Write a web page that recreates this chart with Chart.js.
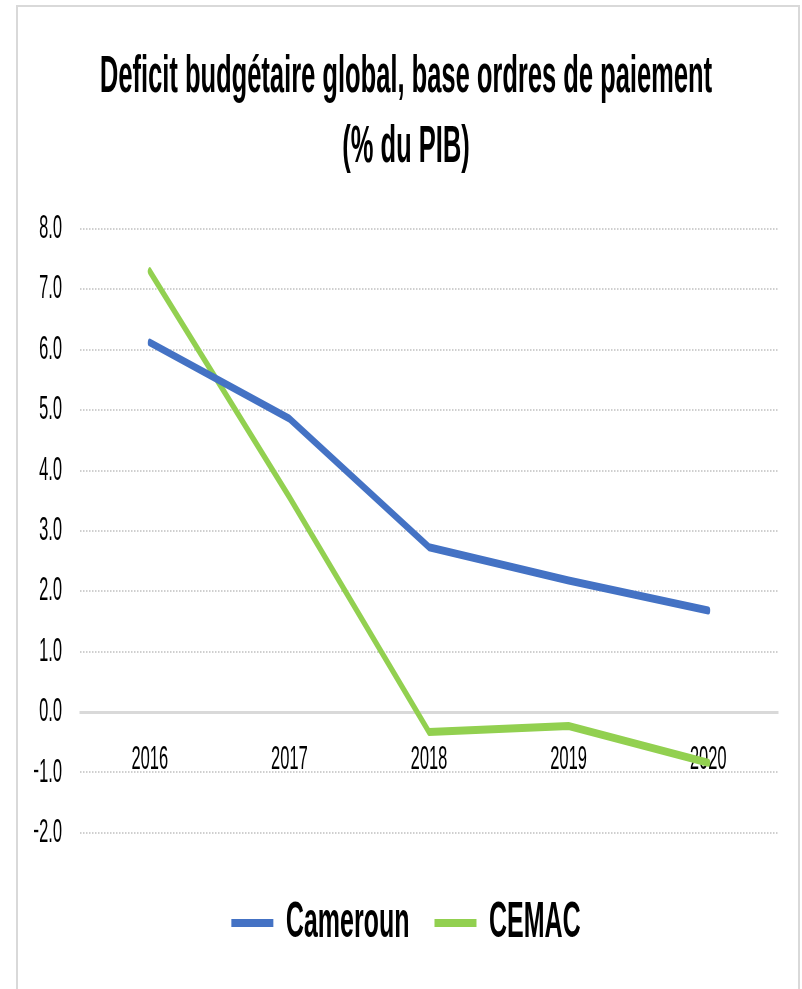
<!DOCTYPE html>
<html>
<head>
<meta charset="utf-8">
<script src="https://cdn.jsdelivr.net/npm/chart.js@4"></script>
<style>
  html, body { margin: 0; padding: 0; background: #fff; }
  #frame {
    position: absolute; left: 16px; top: 5px; width: 784px; height: 1000px;
    border: 2px solid #d9d9d9; box-sizing: border-box;
  }
  #chart { position: absolute; left: 0; top: 0; }
</style>
</head>
<body>
<div id="frame"></div>
<!-- drawn twice as wide then squeezed, to get the narrow lettering of the original -->
<canvas id="chart" width="1604" height="989" style="width:802px;height:989px"></canvas>
<script>
const years = ['2016', '2017', '2018', '2019', '2020'];
const cameroun = [6.12, 4.86, 2.73, 2.18, 1.68];
const cemac = [7.3, 3.56, -0.33, -0.23, -0.84];
const seriesNames = ['Cameroun', 'CEMAC'];
const titleLines = ['Deficit budgétaire global, base ordres de paiement', '(% du PIB)'];
const yMin = -2, yMax = 8, yStep = 1;

const BLUE = '#4472C4';
const GREEN = '#92D050';
const GRID = '#cfcfcf';
const FONT = "'Liberation Sans', Arial, sans-serif";
const PAD_LEFT = 68;

new Chart(document.getElementById('chart'), {
  type: 'line',
  data: {
    labels: years,
    datasets: [
      { label: seriesNames[0], data: cameroun, borderColor: BLUE, backgroundColor: BLUE, borderWidth: 8 },
      { label: seriesNames[1], data: cemac, borderColor: GREEN, backgroundColor: GREEN, borderWidth: 8 }
    ]
  },
  options: {
    responsive: false,
    devicePixelRatio: 1,
    animation: false,
    elements: {
      line: { tension: 0, borderCapStyle: 'round', borderJoinStyle: 'round' },
      point: { radius: 0, hoverRadius: 0 }
    },
    layout: { padding: { left: PAD_LEFT, right: 48, top: 0, bottom: 31 } },
    scales: {
      x: {
        position: { y: 0 },
        offset: true,
        grid: { display: false, drawTicks: false },
        border: { display: true, color: '#d9d9d9', width: 3 },
        ticks: { color: '#000', padding: 28, font: { family: FONT, size: 33 } }
      },
      y: {
        min: yMin,
        max: yMax,
        grid: { color: GRID, lineWidth: 2, drawTicks: false },
        border: { display: false, dash: [3, 3] },
        afterFit: scale => { scale.width = 160 - PAD_LEFT; },
        ticks: {
          stepSize: yStep,
          color: '#000',
          padding: 36,
          font: { family: FONT, size: 33 },
          callback: v => v.toFixed(1).replace('-', '\u2212')
        }
      }
    },
    plugins: {
      tooltip: { enabled: false },
      title: {
        display: true,
        text: titleLines,
        color: '#000',
        font: { family: FONT, size: 51, weight: 'bold', lineHeight: 70 / 51 },
        padding: { top: 43, bottom: 46 }
      },
      legend: {
        position: 'bottom',
        title: { display: true, text: '', padding: 7, font: { size: 1 } },
        labels: {
          usePointStyle: true,
          pointStyle: 'line',
          pointStyleWidth: 84,
          padding: 50,
          color: '#000',
          font: { family: FONT, size: 50, weight: 'bold' }
        }
      }
    }
  }
});
</script>
</body>
</html>
